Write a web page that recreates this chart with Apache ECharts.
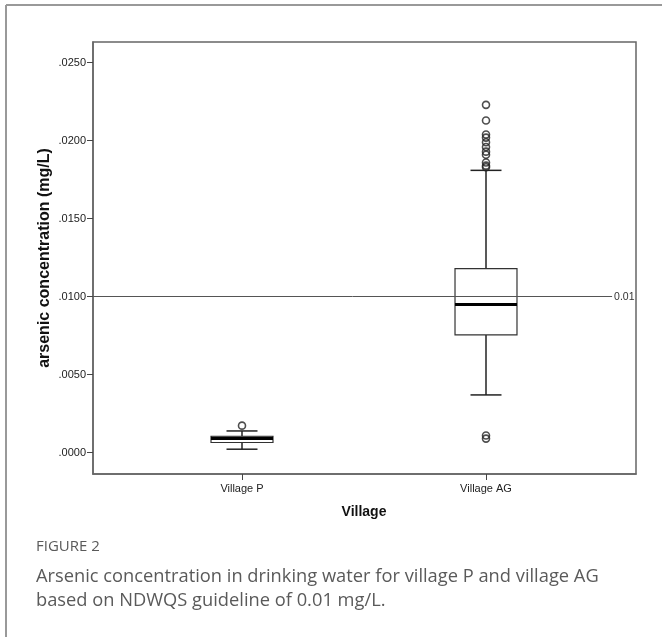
<!DOCTYPE html>
<html>
<head>
<meta charset="utf-8">
<style>
html,body{margin:0;padding:0;background:#fff;}
#chart{width:662px;height:637px;}
</style>
<script src="https://cdn.jsdelivr.net/npm/echarts@6/dist/echarts.min.js"></script>
</head>
<body>
<div id="chart"></div>
<script>
// ---- data ----
const categories = ['Village P', 'Village AG'];
const whiskerLow  = [0.00022, 0.0037];
const q1          = [0.00065, 0.00755];
const median      = [0.00092, 0.0095];
const q3          = [0.00105, 0.0118];
const whiskerHigh = [0.00139, 0.0181];
const outliersP   = [0.00173];
const outliersAG  = [0.0223, 0.0213, 0.0204, 0.0202, 0.0199, 0.0196, 0.0193, 0.0191, 0.0186, 0.0184, 0.0183, 0.0011, 0.0009];
const yTicks = [0, 0.005, 0.01, 0.015, 0.02, 0.025];
const refValue = 0.01;
const refLabel = '0.01';
const yMin = -0.00137, yMax = 0.02633;

const boxData = categories.map((c, i) => [i, whiskerLow[i], q1[i], median[i], q3[i], whiskerHigh[i]]);
const outlierData = outliersP.map(v => [0, v]).concat(outliersAG.map(v => [1, v]));

const fmt = v => v.toFixed(4).replace(/^0/, '');
const axisFont = {fontFamily: 'Liberation Sans, Arial, sans-serif', fontSize: 11, color: '#222'};

const chart = echarts.init(document.getElementById('chart'), null, {renderer: 'canvas'});
chart.setOption({
  backgroundColor: '#fff',
  animation: false,
  grid: [
    {left: 93, top: 42, width: 543, height: 432, show: true, borderColor: '#666', borderWidth: 1.5, backgroundColor: 'transparent'},
    {left: 120, top: 42, width: 488, height: 432}
  ],
  xAxis: [
    {type: 'value', gridIndex: 0, min: 0, max: 1, axisLabel: {show: false}, axisTick: {show: false}, splitLine: {show: false},
     axisLine: {show: true, onZero: false, lineStyle: {color: '#666', width: 1.5}}},
    {type: 'category', gridIndex: 1, data: categories, boundaryGap: true,
     axisLine: {show: false, onZero: false}, axisTick: {show: true, alignWithLabel: true, length: 6, lineStyle: {color: '#444', width: 1}},
     axisLabel: Object.assign({margin: 9}, axisFont),
     splitLine: {show: false},
     name: 'Village', nameLocation: 'middle', nameGap: 31, nameMoveOverlap: false,
     nameTextStyle: {fontFamily: 'Liberation Sans, Arial, sans-serif', fontSize: 14, fontWeight: 'bold', color: '#111'}}
  ],
  yAxis: [
    {type: 'value', gridIndex: 0, min: yMin, max: yMax,
     axisLine: {show: true, onZero: false, lineStyle: {color: '#666', width: 1.5}},
     axisTick: {show: true, length: 6, customValues: yTicks, lineStyle: {color: '#444', width: 1}},
     axisLabel: Object.assign({customValues: yTicks, formatter: fmt, margin: 7}, axisFont),
     splitLine: {show: false},
     name: 'arsenic concentration (mg/L)', nameLocation: 'middle', nameGap: 40, nameMoveOverlap: false,
     nameTextStyle: {fontFamily: 'Liberation Sans, Arial, sans-serif', fontSize: 16, fontWeight: 'bold', color: '#111'}},
    {type: 'value', gridIndex: 1, min: yMin, max: yMax, show: false, splitLine: {show: false}}
  ],
  series: [
    {
      type: 'line', xAxisIndex: 0, yAxisIndex: 0, data: [], silent: true,
      markLine: {
        symbol: 'none', silent: true,
        lineStyle: {color: '#555', width: 1, type: 'solid'},
        label: {show: true, position: 'end', formatter: refLabel, distance: 2,
                fontFamily: 'Liberation Sans, Arial, sans-serif', fontSize: 10.5, color: '#333'},
        data: [[{coord: [0, refValue]}, {coord: [0.956, refValue]}]]
      }
    },
    {
      type: 'custom', xAxisIndex: 1, yAxisIndex: 1, data: boxData,
      renderItem: function (params, api) {
        const cat = api.value(0);
        const band = api.size([1, 0])[0];
        const half = band * 0.127;
        const cap = half * 0.5;
        const x = api.coord([cat, 0])[0];
        const yLo = api.coord([cat, api.value(1)])[1];
        const yQ1 = api.coord([cat, api.value(2)])[1];
        const yMed = api.coord([cat, api.value(3)])[1];
        const yQ3 = api.coord([cat, api.value(4)])[1];
        const yHi = api.coord([cat, api.value(5)])[1];
        const ws = {stroke: '#222', lineWidth: 1.5};
        return {
          type: 'group',
          children: [
            {type: 'line', shape: {x1: x, y1: yQ3, x2: x, y2: yHi}, style: ws},
            {type: 'line', shape: {x1: x, y1: yQ1, x2: x, y2: yLo}, style: ws},
            {type: 'line', shape: {x1: x - cap, y1: yHi, x2: x + cap, y2: yHi}, style: ws},
            {type: 'line', shape: {x1: x - cap, y1: yLo, x2: x + cap, y2: yLo}, style: ws},
            {type: 'rect', shape: {x: x - half, y: yQ3, width: 2 * half, height: yQ1 - yQ3},
             style: {fill: '#fff', stroke: '#333', lineWidth: 1.2}},
            {type: 'line', shape: {x1: x - half, y1: yMed, x2: x + half, y2: yMed},
             style: {stroke: '#000', lineWidth: 3.2}}
          ]
        };
      }
    },
    {
      type: 'scatter', xAxisIndex: 1, yAxisIndex: 1, data: outlierData,
      symbol: 'circle', symbolSize: 7,
      itemStyle: {color: 'rgba(255,255,255,0)', borderColor: '#222', borderWidth: 1.6}
    }
  ],
  graphic: [
    {type: 'line', shape: {x1: 6, y1: 5, x2: 662, y2: 5}, style: {stroke: '#999', lineWidth: 2}},
    {type: 'line', shape: {x1: 6, y1: 5, x2: 6, y2: 637}, style: {stroke: '#999', lineWidth: 2}},
    {type: 'text', left: 36, top: 539, style: {text: 'FIGURE 2', font: '15px "Open Sans", sans-serif', fill: '#5a5a5a'}},
    {type: 'text', left: 36, top: 568, style: {text: 'Arsenic concentration in drinking water for village P and village AG', font: '18.3px "Open Sans", sans-serif', fill: '#5a5a5a'}},
    {type: 'text', left: 36, top: 592, style: {text: 'based on NDWQS guideline of 0.01 mg/L.', font: '18.3px "Open Sans", sans-serif', fill: '#5a5a5a'}}
  ]
});
</script>
</body>
</html>
